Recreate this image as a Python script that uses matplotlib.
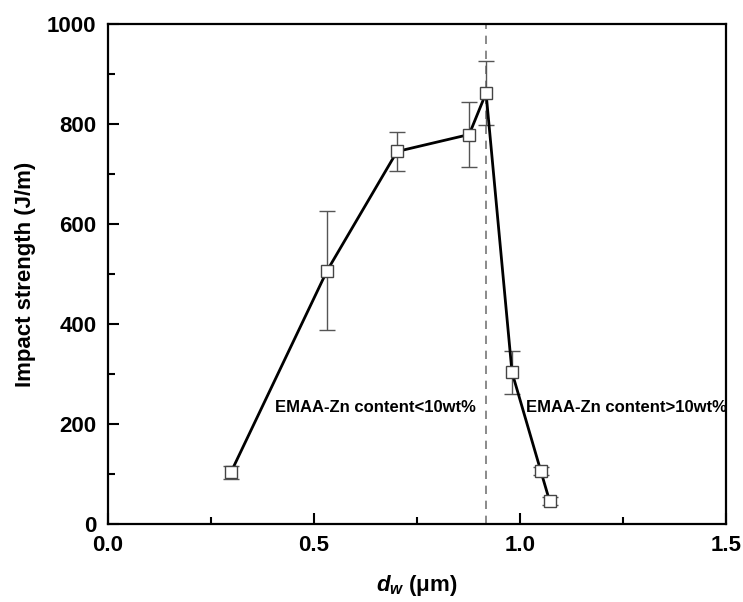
import matplotlib
matplotlib.use("Agg")
import matplotlib.pyplot as plt
from matplotlib.ticker import MultipleLocator, FormatStrFormatter

plt.rcParams['font.family'] = ['Liberation Sans', 'DejaVu Sans']
plt.rcParams['font.weight'] = 'bold'
plt.rcParams['mathtext.fontset'] = 'custom'
plt.rcParams['mathtext.rm'] = 'Liberation Sans:bold'
plt.rcParams['mathtext.it'] = 'Liberation Sans:italic:bold'
plt.rcParams['mathtext.bf'] = 'Liberation Sans:bold'

# particle size d_w (um) vs notched impact strength (J/m)
dw = [0.299, 0.532, 0.702, 0.877, 0.918, 0.981, 1.051, 1.072]
strength = [103, 506, 745, 779, 862, 303, 105, 46]
err = [13, 119, 40, 66, 64, 43, 8, 8]
split_at = 0.919

fig = plt.figure(figsize=(7.43, 6.02), dpi=100)
ax = fig.add_axes([0.145, 0.130, 0.832, 0.830])

ax.errorbar(dw, strength, yerr=err, fmt='none', ecolor='#555555',
            elinewidth=1.0, capsize=5.5, capthick=1.0, zorder=2)
ax.plot(dw, strength, color='black', lw=2.0, zorder=3)
ax.plot(dw, strength, ls='none', marker='s', ms=8, mfc='white',
        mec='#444444', mew=1.0, zorder=4)

ax.axvline(split_at, color='#777777', lw=1.2, ls=(0, (5, 4)), zorder=1)

ax.text(0.407, 232, 'EMAA-Zn content<10wt%', fontsize=12, fontweight='bold',
        va='center', ha='left')
ax.text(1.016, 232, 'EMAA-Zn content>10wt%', fontsize=12, fontweight='bold',
        va='center', ha='left', clip_on=True)

ax.set_xlim(0, 1.5)
ax.set_ylim(0, 1000)
ax.xaxis.set_major_locator(MultipleLocator(0.5))
ax.xaxis.set_minor_locator(MultipleLocator(0.25))
ax.yaxis.set_major_locator(MultipleLocator(200))
ax.yaxis.set_minor_locator(MultipleLocator(100))
ax.xaxis.set_major_formatter(FormatStrFormatter('%.1f'))

ax.tick_params(which='both', direction='in', top=False, right=False,
               labelsize=16, width=1.5, pad=8)
ax.tick_params(which='major', length=8)
ax.tick_params(which='minor', length=5)
for lbl in ax.get_xticklabels() + ax.get_yticklabels():
    lbl.set_fontweight('bold')
for sp in ax.spines.values():
    sp.set_linewidth(1.6)

ax.set_xlabel(r'$d_w$ (μm)', fontsize=16, fontweight='bold', labelpad=12)
ax.set_ylabel('Impact strength (J/m)', fontsize=16, fontweight='bold', labelpad=8)

fig.savefig('out.png', dpi=100)
